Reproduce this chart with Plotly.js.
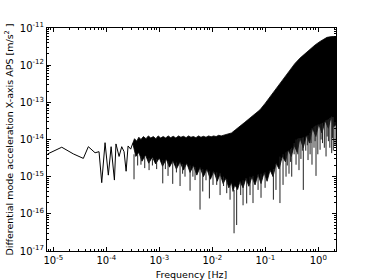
<!DOCTYPE html>
<html>
<head>
<meta charset="utf-8">
<script src="https://cdn.plot.ly/plotly-3.0.1.min.js"></script>
<style>
  html, body { margin: 0; padding: 0; background: #fff; }
  #chart { width: 374px; height: 280px; }
</style>
</head>
<body>
<div id="chart"></div>
<script>
// low end of the spectrum, still a thin line
const sparseFreq = [7.84e-6, 1.44e-5, 2.38e-5, 3.68e-5, 4.57e-5, 6.12e-5, 7.28e-5, 8.18e-5, 9.45e-5,
    1.09e-4, 1.23e-4, 1.42e-4, 1.52e-4, 1.74e-4, 1.95e-4, 2.16e-4, 2.36e-4, 2.57e-4, 2.88e-4, 3.15e-4];
const sparseAps = [4.1e-15, 6.2e-15, 4.1e-15, 3.1e-15, 6.4e-15, 4.4e-15, 4.7e-15, 6.9e-16, 8.2e-15,
    1.1e-15, 6.4e-15, 8.1e-16, 7.6e-15, 3.5e-15, 6.4e-15, 4.7e-15, 1.4e-15, 6.7e-15, 5.5e-15, 7.9e-15];

// dense part: upper edge of the black band
const topFreq = [3.15e-4, 3.4e-4, 3.75e-4, 4.1e-4, 4.5e-4, 5e-4, 5.6e-4, 6.2e-4, 6.9e-4, 7.7e-4, 8.6e-4, 9.5e-4,
    1.06e-3, 1.18e-3, 1.32e-3, 1.47e-3, 1.64e-3, 1.83e-3, 2.05e-3, 2.3e-3, 2.55e-3, 2.85e-3, 3.2e-3, 3.55e-3,
    3.95e-3, 4.4e-3, 4.9e-3, 5.5e-3, 6.1e-3, 6.8e-3, 7.6e-3, 8.5e-3, 9.5e-3,
    1.06e-2, 1.18e-2, 1.32e-2, 1.47e-2, 1.64e-2, 1.83e-2, 2.05e-2, 2.3e-2, 2.7e-2, 3.33e-2, 4.1e-2, 5.15e-2,
    6.4e-2, 7.94e-2, 0.1, 0.123, 0.15, 0.189, 0.235, 0.292, 0.36, 0.452, 0.56, 0.697, 0.87, 1.08, 1.27, 1.46,
    1.8, 2.16];
const topAps = [7.9e-15, 1.05e-14, 9e-15, 1.15e-14, 1.0e-14, 1.2e-14, 1.05e-14, 1.25e-14, 1.1e-14, 1.2e-14, 1.05e-14, 1.25e-14,
    1.1e-14, 1.2e-14, 1.1e-14, 1.25e-14, 1.12e-14, 1.22e-14, 1.1e-14, 1.25e-14, 1.15e-14, 1.22e-14, 1.12e-14, 1.25e-14,
    1.15e-14, 1.2e-14, 1.12e-14, 1.25e-14, 1.15e-14, 1.22e-14, 1.15e-14, 1.25e-14, 1.18e-14,
    1.25e-14, 1.2e-14, 1.3e-14, 1.25e-14, 1.3e-14, 1.35e-14, 1.4e-14, 1.5e-14, 1.8e-14, 2.25e-14, 2.9e-14, 3.8e-14,
    4.9e-14, 6.3e-14, 9.5e-14, 1.43e-13, 2.1e-13, 3.3e-13, 5.0e-13, 7.5e-13, 1.1e-12, 1.55e-12, 2.05e-12, 2.6e-12, 3.5e-12, 4.35e-12, 5.1e-12, 5.6e-12,
    5.9e-12, 5.9e-12];

// dense part: ragged lower edge of the solid band
const bottomFreq = [3.15e-4, 3.6e-4, 4.1e-4, 4.7e-4, 5.5e-4, 6.3e-4, 7.4e-4, 8.5e-4, 1.0e-3, 1.15e-3,
    1.35e-3, 1.55e-3, 1.8e-3, 2.1e-3, 2.46e-3, 2.85e-3, 3.3e-3, 3.8e-3, 4.4e-3, 5.1e-3, 5.86e-3, 6.8e-3,
    7.9e-3, 9.2e-3, 1.07e-2, 1.24e-2, 1.4e-2, 1.6e-2, 1.8e-2, 2.05e-2, 2.3e-2, 2.46e-2, 2.65e-2, 3.0e-2,
    3.33e-2, 3.8e-2, 4.3e-2, 4.9e-2, 5.6e-2, 6.4e-2, 7.3e-2, 8.3e-2, 9.5e-2, 0.108, 0.123, 0.14, 0.16,
    0.182, 0.21, 0.24, 0.27, 0.31, 0.35, 0.4, 0.45, 0.52, 0.6, 0.68, 0.78, 0.9, 1.02, 1.17, 1.35, 1.55,
    1.75, 1.95, 2.16];
const bottomAps = [7.9e-15, 3.5e-15, 4.5e-15, 2.6e-15, 3.8e-15, 2.3e-15, 3.4e-15, 2.2e-15, 3.2e-15, 1.9e-15,
    3.0e-15, 1.8e-15, 2.7e-15, 1.6e-15, 2.5e-15, 1.5e-15, 2.3e-15, 1.3e-15, 2.0e-15, 1.1e-15, 1.8e-15, 1.0e-15,
    1.6e-15, 8.5e-16, 1.4e-15, 7.5e-16, 1.2e-15, 6.5e-16, 9e-16, 5e-16, 7e-16, 4e-16, 6e-16, 4.5e-16,
    7.5e-16, 5e-16, 9e-16, 5.5e-16, 1.0e-15, 6e-16, 1.15e-15, 6.5e-16, 1.3e-15, 7.5e-16, 1.5e-15, 1.0e-15, 2.3e-15,
    1.6e-15, 3.6e-15, 2.5e-15, 5.2e-15, 3.5e-15, 7e-15, 4.5e-15, 1.1e-14, 6e-15, 1.3e-14, 8e-15, 2.0e-14, 1.2e-14, 2.6e-14, 1.5e-14, 3.2e-14, 2e-14,
    4.2e-14, 2.2e-14, 2.5e-14];

// deep dips hanging below the band: frequency, lowest value, value where they leave the band
const dipFreq = [3.33e-4, 3.9e-4, 4.5e-4, 5.3e-4, 6.4e-4, 7.4e-4, 8.9e-4, 1.16e-3, 1.3e-3, 1.46e-3, 1.79e-3,
    2.1e-3, 2.46e-3, 2.75e-3, 3.05e-3, 3.8e-3, 4.3e-3, 4.72e-3, 5.86e-3, 6.6e-3, 7.6e-3, 8.8e-3,
    1.03e-2, 1.21e-2, 1.4e-2, 1.63e-2, 1.87e-2, 2.16e-2, 2.57e-2, 2.88e-2, 3.43e-2, 3.8e-2, 4.45e-2,
    5.15e-2, 5.86e-2, 7.3e-2, 8.3e-2, 9.9e-2, 0.142, 0.159, 0.189, 0.216, 0.246, 0.26, 0.28, 0.3, 0.315, 0.35,
    0.38, 0.41, 0.432, 0.47, 0.5, 0.521, 0.58, 0.62, 0.64, 0.7, 0.73, 0.76, 0.83, 0.87, 0.905, 0.98, 1.08, 1.13,
    1.2, 1.3, 1.4, 1.47, 1.55, 1.65, 1.79, 1.85, 1.92, 2.07];
const dipLow = [8.5e-16, 2.0e-15, 2.1e-15, 1.7e-15, 1.5e-15, 2.0e-15, 1.6e-15, 6.6e-16, 1.6e-15, 1.05e-15, 6.4e-16,
    1.3e-15, 5.6e-16, 1.2e-15, 1.0e-15, 4.2e-16, 1.0e-15, 8.1e-16, 1.3e-16, 4.0e-16, 8e-16, 2.6e-16,
    6.0e-16, 6.0e-16, 3.2e-16, 5.6e-16, 3.6e-16, 2.4e-16, 3.0e-17, 5.0e-17, 3.2e-16, 1.7e-16, 1.9e-16,
    3.2e-16, 1.95e-16, 4.4e-16, 2.7e-16, 5.0e-16, 2.4e-16, 4.4e-16, 1.95e-16, 6e-16, 1e-15, 2e-15, 1.2e-15, 2.5e-15, 1.0e-15, 4e-15,
    2.1e-15, 4e-15, 1.5e-15, 3e-15, 5e-15, 4.4e-16, 5e-15, 7e-15, 2.8e-15, 4e-15, 8e-15, 2.1e-15, 6e-15, 9e-15, 1.05e-15, 4e-15, 5.3e-15, 1e-14,
    8e-15, 6e-15, 3.5e-15, 1.2e-14, 9e-15, 6e-15, 4.3e-15, 1.1e-14, 5e-15, 7.1e-15];
const dipBase = [4e-15, 4e-15, 3.5e-15, 3.4e-15, 3.2e-15, 3.1e-15, 3e-15, 2.8e-15, 2.7e-15, 2.6e-15, 2.5e-15,
    2.4e-15, 2.3e-15, 2.2e-15, 2.1e-15, 2.0e-15, 1.9e-15, 1.8e-15, 1.7e-15, 1.6e-15, 1.5e-15, 1.4e-15,
    1.35e-15, 1.3e-15, 1.26e-15, 1.0e-15, 8.5e-16, 6e-16, 4.4e-16, 5e-16, 7e-16, 8e-16, 9e-16,
    1e-15, 1.05e-15, 1.15e-15, 1.2e-15, 1.3e-15, 1.6e-15, 2.2e-15, 3.46e-15, 4e-15, 4.5e-15, 4.8e-15, 5e-15, 5.5e-15, 6e-15, 8e-15,
    1.0e-14, 1.05e-14, 1.1e-14, 1.1e-14, 1.12e-14, 1.15e-14, 1.2e-14, 1.25e-14, 1.3e-14, 1.5e-14, 1.8e-14, 2e-14, 2.2e-14, 2.3e-14, 2.4e-14, 2.5e-14, 2.6e-14, 2.7e-14,
    2.8e-14, 3e-14, 3.3e-14, 3.4e-14, 3.5e-14, 3.8e-14, 4e-14, 4e-14, 4e-14, 3e-14];

const xExponents = [-5, -4, -3, -2, -1, 0];
const yExponents = [-17, -16, -15, -14, -13, -12, -11];

function minorTicks(lo, hi) {
    const vals = [];
    for (let e = lo; e <= hi; e++) {
        for (let d = 2; d <= 9; d++) vals.push(d * Math.pow(10, e));
    }
    return vals;
}

const bandFreq = topFreq.concat(bottomFreq.slice().reverse());
const bandAps = topAps.concat(bottomAps.slice().reverse());

// each dip becomes its own vertical segment, split by nulls
const dipX = [], dipY = [];
dipFreq.forEach((f, i) => {
    dipX.push(f, f, null);
    dipY.push(dipBase[i], dipLow[i], null);
});

const traces = [
    {
        x: bandFreq, y: bandAps,
        mode: 'lines', fill: 'toself', fillcolor: '#000',
        line: { color: '#000', width: 0.8 },
        hoverinfo: 'skip'
    },
    {
        x: dipX, y: dipY,
        mode: 'lines', connectgaps: false,
        line: { color: '#222', width: 1 }
    },
    {
        x: sparseFreq, y: sparseAps,
        mode: 'lines',
        line: { color: '#000', width: 1 }
    }
];

const axisCommon = {
    type: 'log',
    showgrid: false,
    zeroline: false,
    showline: true,
    linecolor: '#000',
    linewidth: 1,
    mirror: 'allticks',
    ticks: 'inside',
    ticklen: 4,
    tickcolor: '#000',
    tickmode: 'array',
    tickfont: { family: 'DejaVu Sans', size: 10, color: '#000' }
};

const titleFont = { family: 'DejaVu Sans', size: 9.5, color: '#000' };

const layout = {
    width: 374,
    height: 280,
    margin: { l: 47, r: 38, t: 28, b: 29 },
    paper_bgcolor: '#fff',
    plot_bgcolor: '#fff',
    showlegend: false,
    font: { family: 'DejaVu Sans', size: 10, color: '#000' },
    xaxis: Object.assign({}, axisCommon, {
        range: [-5.12, 0.334],
        tickvals: xExponents.map(e => Math.pow(10, e)),
        ticktext: xExponents.map(e => '10<sup>' + e + '</sup>'),
        minor: { tickmode: 'array', tickvals: minorTicks(-6, 0), ticks: 'inside', ticklen: 2, tickcolor: '#000' },
        title: { text: 'Frequency [Hz]', font: titleFont, standoff: 6 }
    }),
    yaxis: Object.assign({}, axisCommon, {
        range: [-17, -11],
        tickvals: yExponents.map(e => Math.pow(10, e)),
        ticktext: yExponents.map(e => '10<sup>' + e + '</sup>'),
        minor: { tickmode: 'array', tickvals: minorTicks(-17, -12), ticks: 'inside', ticklen: 2, tickcolor: '#000' },
        title: { text: 'Differential mode acceleration X-axis APS [m/s<sup>2</sup> ]', font: titleFont, standoff: 4 }
    })
};

Plotly.newPlot('chart', traces, layout, { displayModeBar: false, staticPlot: true });
</script>
</body>
</html>
